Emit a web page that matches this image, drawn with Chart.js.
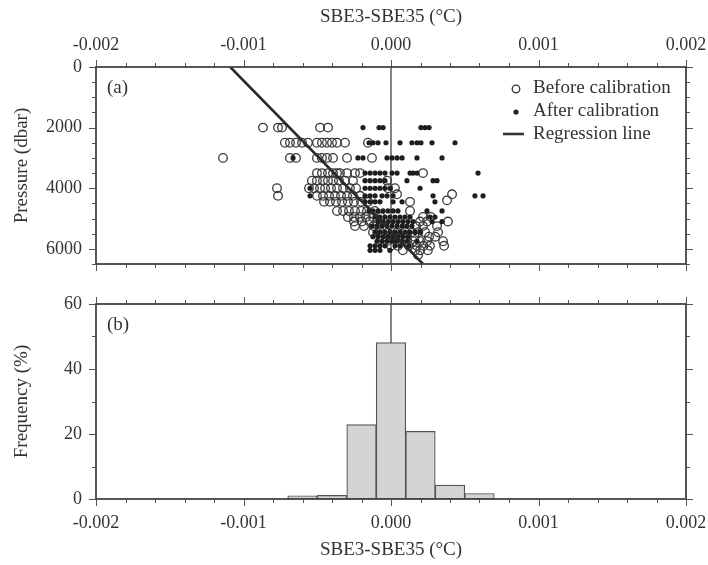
<!DOCTYPE html>
<html>
<head>
<meta charset="utf-8">
<script src="https://cdn.jsdelivr.net/npm/chart.js@4.4.1/dist/chart.umd.min.js"></script>
<style>
  html, body { margin:0; padding:0; background:#fff; }
  #wrap { position:relative; width:708px; height:565px; }
  canvas { position:absolute; left:0; }
  #c1 { top:0; }
  #c2 { top:280px; }
</style>
</head>
<body>
<div id="wrap">
  <canvas id="c1" width="708" height="280"></canvas>
  <canvas id="c2" width="708" height="285"></canvas>
</div>
<script>
// ---------------- DATA ----------------
// Panel (a): SBE3-SBE35 differences (°C) grouped by pressure level (dbar)
const beforeLevels = [2000, 2500, 3000, 3500, 3750, 4000, 4200, 4250, 4400, 4450, 4750, 4950, 5100, 5250, 5450, 5600, 5750, 5900, 6050, 6200];
const beforeRows = [
  [-8.68e-4, -7.66e-4, -7.39e-4, -4.81e-4, -4.27e-4],
  [-7.19e-4, -6.85e-4, -6.44e-4, -6.03e-4, -5.63e-4, -5.02e-4, -4.68e-4, -4.34e-4, -4.00e-4, -3.66e-4, -3.12e-4, -1.56e-4],
  [-11.39e-4, -6.85e-4, -6.44e-4, -5.02e-4, -4.68e-4, -4.34e-4, -3.93e-4, -2.98e-4, -1.29e-4],
  [-5.02e-4, -4.68e-4, -4.27e-4, -3.93e-4, -3.66e-4, -3.46e-4, -2.98e-4, -2.44e-4, -2.10e-4, 2.17e-4],
  [-5.36e-4, -5.02e-4, -4.61e-4, -4.27e-4, -3.93e-4, -3.53e-4, -3.12e-4, -2.58e-4, -0.27e-4],
  [-7.73e-4, -5.56e-4, -5.22e-4, -4.81e-4, -4.47e-4, -4.07e-4, -3.66e-4, -3.25e-4, -2.78e-4, -2.37e-4, -0.20e-4, 0.27e-4],
  [0.41e-4, 4.14e-4],
  [-7.66e-4, -5.02e-4, -4.61e-4, -4.20e-4, -3.80e-4, -3.39e-4, -2.98e-4, -2.58e-4, -2.10e-4],
  [3.80e-4],
  [-4.54e-4, -4.14e-4, -3.73e-4, -3.32e-4, -2.92e-4, -2.51e-4, -2.03e-4, -1.55e-4, 1.29e-4],
  [-3.66e-4, -3.25e-4, -2.85e-4, -2.44e-4, -2.03e-4, -1.63e-4, -1.10e-4, 1.29e-4],
  [-2.92e-4, -2.51e-4, -2.10e-4, -1.69e-4, -1.22e-4, -0.70e-4, 2.17e-4, 2.70e-4],
  [-2.51e-4, -1.97e-4, -1.45e-4, -0.95e-4, 1.97e-4, 2.44e-4, 3.86e-4],
  [-2.44e-4, -1.83e-4, -1.20e-4, -0.60e-4, 0.60e-4, 1.70e-4, 2.17e-4, 3.12e-4],
  [-1.22e-4, -0.70e-4, 0.41e-4, 0.95e-4, 1.42e-4, 1.85e-4, 2.31e-4, 3.19e-4],
  [-0.60e-4, 0.14e-4, 0.55e-4, 1.08e-4, 1.60e-4, 2.58e-4, 3.00e-4],
  [-0.30e-4, 0.50e-4, 1.08e-4, 1.50e-4, 1.97e-4, 2.44e-4, 3.53e-4],
  [0.00e-4, 0.47e-4, 1.20e-4, 1.76e-4, 2.20e-4, 2.64e-4, 3.60e-4],
  [0.80e-4, 1.63e-4, 1.97e-4, 2.50e-4],
  [1.83e-4]
];
const afterLevels = [2000, 2500, 3000, 3500, 3750, 4000, 4250, 4450, 4750, 4950, 5100, 5250, 5450, 5600, 5750, 5900, 6050];
const afterRows = [
  [-1.90e-4, -0.81e-4, -0.54e-4, 2.03e-4, 2.31e-4, 2.58e-4],
  [-1.49e-4, -1.22e-4, -0.88e-4, -0.34e-4, 0.61e-4, 1.42e-4, 1.76e-4, 2.03e-4, 2.78e-4, 4.34e-4],
  [-6.64e-4, -2.24e-4, -1.90e-4, -0.27e-4, 0.07e-4, 0.41e-4, 0.75e-4, 1.76e-4, 3.46e-4],
  [-1.76e-4, -1.42e-4, -1.08e-4, -0.75e-4, -0.41e-4, 0.07e-4, 0.41e-4, 1.29e-4, 1.49e-4, 1.76e-4, 5.90e-4],
  [-1.76e-4, -1.42e-4, -1.08e-4, -0.75e-4, -0.41e-4, 1.08e-4, 2.85e-4, 3.12e-4],
  [-5.49e-4, -1.76e-4, -1.42e-4, -1.08e-4, -0.75e-4, -0.41e-4, -0.07e-4, 1.97e-4],
  [-5.49e-4, -1.76e-4, -1.42e-4, -1.08e-4, -0.61e-4, -0.27e-4, 0.14e-4, 2.85e-4, 5.69e-4, 6.24e-4],
  [-1.76e-4, -1.42e-4, -1.08e-4, -0.75e-4, 0.14e-4, 0.75e-4, 2.98e-4],
  [-1.49e-4, -1.22e-4, -0.88e-4, -0.54e-4, -0.20e-4, 0.14e-4, 0.47e-4, 2.44e-4, 3.46e-4],
  [-1.08e-4, -0.75e-4, -0.41e-4, -0.07e-4, 0.27e-4, 0.61e-4, 0.95e-4, 1.29e-4, 2.64e-4, 2.98e-4],
  [-0.88e-4, -0.54e-4, -0.20e-4, 0.14e-4, 0.47e-4, 0.81e-4, 1.15e-4, 1.49e-4, 2.78e-4, 3.46e-4],
  [-1.29e-4, -0.95e-4, -0.61e-4, -0.27e-4, 0.07e-4, 0.41e-4, 0.75e-4, 1.08e-4, 1.42e-4],
  [-1.08e-4, -0.75e-4, -0.41e-4, -0.07e-4, 0.27e-4, 0.61e-4, 0.95e-4, 1.29e-4, 1.63e-4, 1.97e-4],
  [-1.22e-4, -0.88e-4, -0.54e-4, -0.20e-4, 0.14e-4, 0.47e-4, 0.81e-4, 1.15e-4],
  [-0.95e-4, -0.61e-4, -0.27e-4, 0.07e-4, 0.41e-4, 0.75e-4, 1.08e-4, 1.76e-4],
  [-1.42e-4, -1.08e-4, -0.75e-4, -0.41e-4, 0.27e-4, 0.61e-4, 1.22e-4],
  [-1.42e-4, -1.08e-4, -0.75e-4, -0.07e-4]
];
// regression line end points (x °C, pressure dbar)
const regressionX = [-1.09e-3, 0.217e-3];
const regressionP = [0, 6500];

// Panel (b): histogram, bin centres (°C) and frequency (%)
const binCenters = [-0.0006, -0.0004, -0.0002, 0.0, 0.0002, 0.0004, 0.0006];
const frequency  = [1.0, 1.1, 22.9, 48.1, 20.8, 4.3, 1.7];

// Axis tick labels
const xTickLabels = ['-0.002', '-0.001', '0.000', '0.001', '0.002'];
const pressureTickLabels = [0, 2000, 4000, 6000];
const freqTickLabels = [0, 20, 40, 60];

const legendLabels = ['Before calibration', 'After calibration', 'Regression line'];
const xTitle = 'SBE3-SBE35 (°C)';

// ---------------- BUILD ----------------
const FONT = '"Liberation Serif", "DejaVu Serif", serif';
const TXT = '#333';
function rowsToPoints(levels, rows) {
  const pts = [];
  levels.forEach((p, i) => rows[i].forEach(x => pts.push({ x: x, y: p })));
  return pts;
}
const beforePts = rowsToPoints(beforeLevels, beforeRows);
const afterPts = rowsToPoints(afterLevels, afterRows);
const regPts = regressionX.map((x, i) => ({ x: x, y: regressionP[i] }));

function xLabel(v) {
  const k = Math.round(v * 1000);
  if (Math.abs(k - v * 1000) > 1e-6) return '';
  const s = (k / 1000).toFixed(3);
  return xTickLabels.includes(s) ? s : '';
}
function isMajor(v, step) {
  const k = v / step;
  return Math.abs(Math.round(k) - k) < 1e-6;
}
function fitX(h) { return s => { s.height = h; s.paddingLeft = 0; s.paddingRight = 0; }; }
function fitY(w) { return s => { s.width = w; s.paddingTop = 0; s.paddingBottom = 0; }; }

const framePlugin = {
  id: 'frame',
  afterDraw(chart, args, o) {
    const ctx = chart.ctx, a = chart.chartArea;
    const xs = chart.scales.x, ys = chart.scales.y;
    ctx.save();
    ctx.strokeStyle = '#555';
    ctx.lineWidth = 1;
    ctx.beginPath();
    xs.ticks.forEach(t => {
      const px = Math.round(xs.getPixelForValue(t.value)) + 0.5;
      const L = isMajor(t.value, o.xMajor) ? 7 : 4;
      ctx.moveTo(px, a.top); ctx.lineTo(px, a.top - L);
      ctx.moveTo(px, a.bottom); ctx.lineTo(px, a.bottom + L);
    });
    ys.ticks.forEach(t => {
      const py = Math.round(ys.getPixelForValue(t.value)) + 0.5;
      const L = isMajor(t.value, o.yMajor) ? 7 : 4;
      ctx.moveTo(a.left, py); ctx.lineTo(a.left - L, py);
      ctx.moveTo(a.right, py); ctx.lineTo(a.right + L, py);
    });
    ctx.stroke();
    ctx.strokeStyle = '#444';
    ctx.lineWidth = 1.8;
    ctx.strokeRect(a.left, a.top, a.right - a.left, a.bottom - a.top);
    // panel label
    ctx.fillStyle = TXT;
    ctx.font = '19px ' + FONT;
    ctx.textBaseline = 'middle';
    ctx.textAlign = 'left';
    ctx.fillText(o.label, a.left + 11, a.top + 21);
    if (o.legend) {
      const lx = 533, rows = [88, 111, 134];
      ctx.fillText(legendLabels[0], lx, rows[0]);
      ctx.fillText(legendLabels[1], lx, rows[1]);
      ctx.fillText(legendLabels[2], lx, rows[2]);
      ctx.lineWidth = 1.3; ctx.strokeStyle = '#333';
      ctx.beginPath(); ctx.arc(516, rows[0] + 1, 3.8, 0, Math.PI * 2); ctx.stroke();
      ctx.fillStyle = '#222';
      ctx.beginPath(); ctx.arc(516, rows[1] + 1, 2.6, 0, Math.PI * 2); ctx.fill();
      ctx.lineWidth = 2.6; ctx.strokeStyle = '#333';
      ctx.beginPath(); ctx.moveTo(503, rows[2]); ctx.lineTo(524, rows[2]); ctx.stroke();
    }
    ctx.restore();
  }
};

Chart.defaults.font.family = FONT;
Chart.defaults.color = TXT;

// ---------- Chart (a) ----------
new Chart(document.getElementById('c1'), {
  type: 'scatter',
  data: {
    datasets: [
      { label: 'zero', type: 'line', data: [{ x: 0, y: 0 }, { x: 0, y: 6500 }], borderColor: '#333', borderWidth: 1.2, pointRadius: 0, order: 4 },
      { label: legendLabels[0], data: beforePts, pointStyle: 'circle', pointRadius: 4.3, pointBorderWidth: 1.3, borderColor: '#3a3a3a', backgroundColor: 'rgba(255,255,255,0)', order: 3 },
      { label: legendLabels[1], data: afterPts, pointStyle: 'circle', pointRadius: 2.6, pointBorderWidth: 0, borderColor: '#1e1e1e', backgroundColor: '#1e1e1e', order: 2 },
      { label: legendLabels[2], type: 'line', data: regPts, borderColor: '#2a2a2a', borderWidth: 2.6, pointRadius: 0, order: 1 }
    ]
  },
  options: {
    responsive: false, animation: false, devicePixelRatio: 1,
    layout: { padding: { left: 0, right: 22, top: 0, bottom: 16 } },
    plugins: { legend: { display: false }, tooltip: { enabled: false },
      frame: { xMajor: 0.001, yMajor: 2000, label: '(a)', legend: true } },
    scales: {
      x: {
        type: 'linear', position: 'top', min: -0.002, max: 0.002,
        grid: { display: false, drawTicks: false },
        border: { display: false },
        ticks: { stepSize: 0.0002, autoSkip: false, maxRotation: 0, padding: 11, font: { size: 18 }, color: TXT, callback: xLabel },
        title: { display: true, text: xTitle, font: { size: 19 }, color: TXT, padding: { top: 6, bottom: 0 } },
        afterFit: fitX(67)
      },
      y: {
        type: 'linear', reverse: true, min: 0, max: 6500,
        grid: { display: false, drawTicks: false },
        border: { display: false },
        ticks: { stepSize: 500, autoSkip: false, padding: 14, font: { size: 18 }, color: TXT,
          callback: v => pressureTickLabels.includes(v) ? String(v) : '' },
        title: { display: true, text: 'Pressure (dbar)', font: { size: 19 }, color: TXT, padding: { top: 11, bottom: 0 } },
        afterFit: fitY(96)
      }
    }
  },
  plugins: [framePlugin]
});

// ---------- Chart (b) ----------
new Chart(document.getElementById('c2'), {
  type: 'bar',
  data: {
    datasets: [
      { label: 'zero', type: 'line', data: [{ x: 0, y: 0 }, { x: 0, y: 60 }], borderColor: '#333', borderWidth: 1.2, pointRadius: 0, order: 3 },
      { label: 'Frequency', type: 'bar', data: binCenters.map((c, i) => ({ x: c, y: frequency[i] })),
        backgroundColor: '#d4d4d4', borderColor: '#555', borderWidth: 1.2, borderSkipped: false,
        barPercentage: 1.0, categoryPercentage: 1.0, grouped: false, order: 1 }
    ]
  },
  options: {
    responsive: false, animation: false, devicePixelRatio: 1,
    layout: { padding: { left: 0, right: 22, top: 24, bottom: 0 } },
    plugins: { legend: { display: false }, tooltip: { enabled: false },
      frame: { xMajor: 0.001, yMajor: 20, label: '(b)', legend: false } },
    scales: {
      x: {
        type: 'linear', position: 'bottom', min: -0.002, max: 0.002, offset: false,
        grid: { display: false, drawTicks: false, offset: false },
        border: { display: false },
        ticks: { stepSize: 0.0002, autoSkip: false, maxRotation: 0, padding: 13, font: { size: 18 }, color: TXT, callback: xLabel },
        title: { display: true, text: xTitle, font: { size: 19 }, color: TXT, padding: { top: 4, bottom: 4 } },
        afterFit: fitX(66)
      },
      y: {
        type: 'linear', min: 0, max: 60,
        grid: { display: false, drawTicks: false },
        border: { display: false },
        ticks: { stepSize: 10, autoSkip: false, padding: 14, font: { size: 18 }, color: TXT,
          callback: v => freqTickLabels.includes(v) ? String(v) : '' },
        title: { display: true, text: 'Frequency (%)', font: { size: 19 }, color: TXT, padding: { top: 11, bottom: 0 } },
        afterFit: fitY(96)
      }
    }
  },
  plugins: [framePlugin]
});
</script>
</body>
</html>
